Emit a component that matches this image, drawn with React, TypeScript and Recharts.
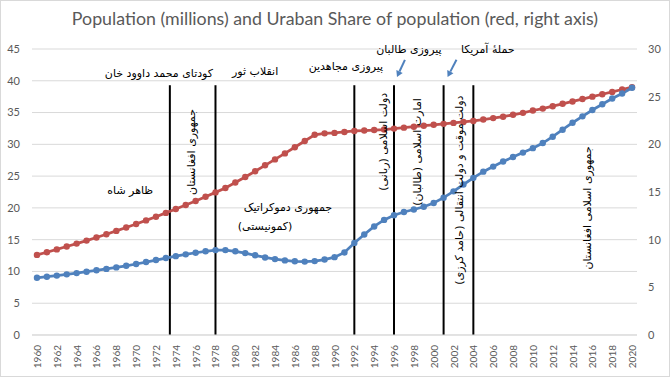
import React from 'react';
import {
  LineChart,
  Line,
  XAxis,
  YAxis,
  CartesianGrid,
  ReferenceLine,
  ReferenceDot
} from 'recharts';

const years = [
  1960, 1961, 1962, 1963, 1964, 1965, 1966, 1967, 1968, 1969,
  1970, 1971, 1972, 1973, 1974, 1975, 1976, 1977, 1978, 1979,
  1980, 1981, 1982, 1983, 1984, 1985, 1986, 1987, 1988, 1989,
  1990, 1991, 1992, 1993, 1994, 1995, 1996, 1997, 1998, 1999,
  2000, 2001, 2002, 2003, 2004, 2005, 2006, 2007, 2008, 2009,
  2010, 2011, 2012, 2013, 2014, 2015, 2016, 2017, 2018, 2019, 2020
];

// جمعیت (میلیون) - محور چپ
const population = [
  9.0, 9.17, 9.35, 9.54, 9.74, 9.96, 10.18, 10.4, 10.64, 10.89,
  11.17, 11.48, 11.79, 12.11, 12.41, 12.69, 12.94, 13.17, 13.36, 13.36,
  13.17, 12.88, 12.54, 12.2, 11.94, 11.74, 11.6, 11.55, 11.63, 11.87,
  12.25, 12.99, 14.49, 15.82, 17.08, 18.11, 18.85, 19.36, 19.74, 20.17,
  20.78, 21.61, 22.6, 23.68, 24.73, 25.7, 26.5, 27.3, 28.0, 28.7,
  29.4, 30.2, 31.2, 32.3, 33.4, 34.4, 35.4, 36.3, 37.2, 38.0, 38.9
];

// سهم شهرنشینی (%) - محور راست
const urbanShare = [
  8.4, 8.68, 8.98, 9.28, 9.59, 9.9, 10.23, 10.57, 10.92, 11.28,
  11.64, 12.02, 12.41, 12.81, 13.22, 13.63, 14.06, 14.5, 14.96, 15.42,
  15.99, 16.58, 17.18, 17.8, 18.42, 19.05, 19.69, 20.35, 21.0, 21.15,
  21.2, 21.3, 21.4, 21.45, 21.5, 21.55, 21.65, 21.75, 21.85, 21.95,
  22.05, 22.15, 22.25, 22.35, 22.45, 22.6, 22.75, 22.9, 23.1, 23.3,
  23.55, 23.75, 24.0, 24.25, 24.5, 24.75, 25.0, 25.25, 25.5, 25.75, 26.0
];

const yearTicks = [
  1960, 1962, 1964, 1966, 1968, 1970, 1972, 1974, 1976, 1978, 1980,
  1982, 1984, 1986, 1988, 1990, 1992, 1994, 1996, 1998, 2000, 2002,
  2004, 2006, 2008, 2010, 2012, 2014, 2016, 2018, 2020
];
const leftTicks = [0, 5, 10, 15, 20, 25, 30, 35, 40, 45];
const rightTicks = [0, 5, 10, 15, 20, 25, 30];

// خطوط عمودی رویدادها
const eventYears = [1973.4, 1978, 1992, 1996, 2001, 2004];
const eventTop = 39.3;

// برچسب های افقی (سال، مقدار محور چپ)
const flatLabels = [
  { text: 'کودتای محمد داوود خان', year: 1972.3, value: 41.2 },
  { text: 'انقلاب ثور', year: 1982.0, value: 41.4 },
  { text: 'پیروزی مجاهدین', year: 1991.15, value: 42.2 },
  { text: 'پیروزی طالبان', year: 1997.5, value: 45.0 },
  { text: 'حملهٔ آمریکا', year: 2005.45, value: 45.0 },
  { text: 'ظاهر شاه', year: 1969.4, value: 22.8 },
  { text: 'جمهوری دموکراتیک', year: 1985.3, value: 20.0 },
  { text: '(کمونیستی)', year: 1983.0, value: 17.1 }
];

// برچسب های عمودی
const verticalLabels = [
  { text: 'جمهوری افغانستان', year: 1975.6, value: 28.8 },
  { text: 'دولت اسلامی (ربانی)', year: 1994.9, value: 30.4 },
  { text: 'امارت اسلامی (طالبان)', year: 1998.4, value: 28.8 },
  { text: 'دولت موقت و دولت انتقالی (حامد کرزی)', year: 2002.6, value: 22.8 },
  { text: 'جمهوری اسلامی افغانستان', year: 2015.55, value: 20.0 }
];

// فلش ها
const arrows = [
  { from: { x: 1997.1, y: 43.3 }, to: { x: 1996.3, y: 40.6 } },
  { from: { x: 2002.3, y: 43.3 }, to: { x: 2001.4, y: 40.6 } }
];

const chartData = years.map((year, i) => ({
  year,
  population: population[i],
  urbanShare: urbanShare[i]
}));

const BLUE = '#4F81BD';
const RED = '#C0504D';
const GRAY = '#595959';
const ANNOT_FONT = '"DejaVu Sans", sans-serif';

const YearTick = ({ x, y, payload }: any) => (
  <text
    x={x}
    y={y}
    transform={`rotate(-90 ${x} ${y})`}
    textAnchor="end"
    dominantBaseline="central"
    fill={GRAY}
    fontSize={10}
    fontFamily="Lato, sans-serif"
  >
    {payload.value}
  </text>
);

const ArrowShape = (p: any) => {
  const { x1, y1, x2, y2 } = p;
  const ang = Math.atan2(y2 - y1, x2 - x1);
  const len = 6;
  const w = 3.5;
  const bx = x2 - len * Math.cos(ang);
  const by = y2 - len * Math.sin(ang);
  const px = -Math.sin(ang) * w;
  const py = Math.cos(ang) * w;
  return (
    <g>
      <line x1={x1} y1={y1} x2={bx} y2={by} stroke={BLUE} strokeWidth={2} />
      <polygon
        points={`${x2},${y2} ${bx + px},${by + py} ${bx - px},${by - py}`}
        fill={BLUE}
      />
    </g>
  );
};

const App: React.FC = () => {
  return (
    <div
      style={{
        position: 'absolute',
        left: 0,
        top: 0,
        width: 670,
        height: 377,
        background: '#fff'
      }}
    >
      <div
        style={{
          position: 'absolute',
          left: 0,
          top: 7,
          width: 670,
          textAlign: 'center',
          fontFamily: 'Lato, sans-serif',
          fontSize: 17.8,
          color: GRAY
        }}
      >
        Population (millions) and Uraban Share of population (red, right axis)
      </div>
      <LineChart
        width={670}
        height={377}
        data={chartData}
        margin={{ top: 49, right: 0, bottom: 0, left: 0 }}
      >
        <CartesianGrid
          yAxisId="left"
          vertical={false}
          stroke="#d9d9d9"
          horizontalValues={leftTicks}
        />
        <XAxis
          dataKey="year"
          type="number"
          domain={[1959.5, 2020.5]}
          ticks={yearTicks}
          interval={0}
          height={42}
          tickLine={false}
          tickSize={0}
          tickMargin={10}
          axisLine={{ stroke: '#d9d9d9' }}
          tick={<YearTick />}
        />
        <YAxis
          yAxisId="left"
          orientation="left"
          domain={[0, 45]}
          ticks={leftTicks}
          width={32}
          axisLine={false}
          tickLine={false}
          tickSize={0}
          tickMargin={12}
          tick={{ fill: GRAY, fontSize: 11, fontFamily: 'Lato, sans-serif' }}
        />
        <YAxis
          yAxisId="right"
          orientation="right"
          domain={[0, 30]}
          ticks={rightTicks}
          width={33}
          axisLine={false}
          tickLine={false}
          tickSize={0}
          tickMargin={11}
          tick={{ fill: GRAY, fontSize: 11, fontFamily: 'Lato, sans-serif', textAnchor: 'start' }}
        />
        {eventYears.map((yr) => (
          <ReferenceLine
            key={`ev-${yr}`}
            yAxisId="left"
            segment={[{ x: yr, y: 0 }, { x: yr, y: eventTop }]}
            stroke="#000"
            strokeWidth={2}
            ifOverflow="visible"
          />
        ))}
        <Line
          yAxisId="right"
          type="linear"
          dataKey="urbanShare"
          stroke={RED}
          strokeWidth={2.75}
          dot={{ r: 3.2, fill: RED, stroke: RED, strokeWidth: 0 }}
          isAnimationActive={false}
        />
        <Line
          yAxisId="left"
          type="linear"
          dataKey="population"
          stroke={BLUE}
          strokeWidth={2.75}
          dot={{ r: 3.2, fill: BLUE, stroke: BLUE, strokeWidth: 0 }}
          isAnimationActive={false}
        />
        {arrows.map((a, i) => (
          <ReferenceLine
            key={`ar-${i}`}
            yAxisId="left"
            segment={[a.from, a.to]}
            ifOverflow="visible"
            shape={ArrowShape}
          />
        ))}
        {flatLabels.map((l) => (
          <ReferenceDot
            key={l.text}
            yAxisId="left"
            x={l.year}
            y={l.value}
            r={0}
            ifOverflow="visible"
            shape={(p: any) => (
              <text
                x={p.cx}
                y={p.cy}
                direction="rtl"
                textAnchor="middle"
                dominantBaseline="central"
                fontSize={11}
                fontFamily={ANNOT_FONT}
                fill="#000"
              >
                {l.text}
              </text>
            )}
          />
        ))}
        {verticalLabels.map((l) => (
          <ReferenceDot
            key={l.text}
            yAxisId="left"
            x={l.year}
            y={l.value}
            r={0}
            ifOverflow="visible"
            shape={(p: any) => (
              <text
                x={p.cx}
                y={p.cy}
                transform={`rotate(-90 ${p.cx} ${p.cy})`}
                direction="rtl"
                textAnchor="middle"
                dominantBaseline="central"
                fontSize={11}
                fontFamily={ANNOT_FONT}
                fill="#000"
              >
                {l.text}
              </text>
            )}
          />
        ))}
      </LineChart>
      <div
        style={{
          position: 'absolute',
          left: 0,
          top: 0,
          width: 670,
          height: 377,
          boxSizing: 'border-box',
          border: '1px solid #d9d9d9',
          pointerEvents: 'none'
        }}
      />
    </div>
  );
};

export default App;
